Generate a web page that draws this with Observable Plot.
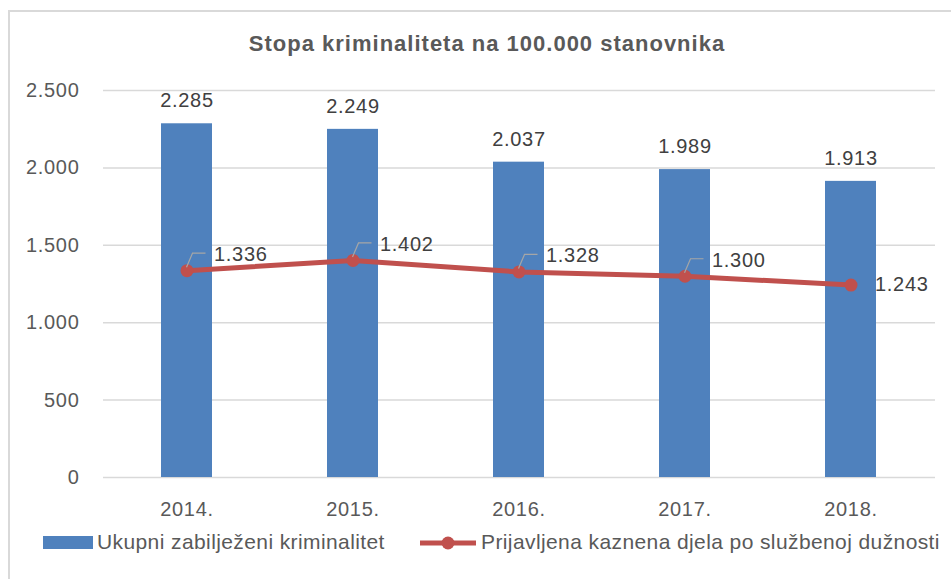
<!DOCTYPE html>
<html>
<head>
<meta charset="utf-8">
<script src="https://cdn.jsdelivr.net/npm/d3@7"></script>
<script src="https://cdn.jsdelivr.net/npm/@observablehq/plot@0.6"></script>
<style>
  html, body { margin: 0; padding: 0; background: #fff; }
  #wrap { position: relative; width: 951px; height: 579px; overflow: hidden; font-family: "Liberation Sans", Arial, sans-serif; }
  #frame { position: absolute; left: 8px; top: 10px; width: 1000px; height: 700px; border-top: 2px solid #d9d9d9; border-left: 2px solid #d9d9d9; }
  #title { position: absolute; left: 8px; width: 958px; top: 31px; text-align: center; font-weight: bold; font-size: 22px; letter-spacing: 1px; color: #595959; }
  #chart { position: absolute; left: 0; top: 0; }
  .leg { position: absolute; top: 530px; font-size: 21px; letter-spacing: 0.4px; color: #595959; white-space: nowrap; }
</style>
</head>
<body>
<div id="wrap">
  <div id="frame"></div>
  <div id="chart"></div>
  <div id="title"></div>
  <div id="legend"></div>
</div>
<script>
const chartTitle = "Stopa kriminaliteta na 100.000 stanovnika";
const years = ["2014.", "2015.", "2016.", "2017.", "2018."];
const totalCrime = [2285, 2249, 2037, 1989, 1913];
const reportedOfficial = [1336, 1402, 1328, 1300, 1243];
const yTicks = [0, 500, 1000, 1500, 2000, 2500];
const seriesNames = ["Ukupni zabilježeni kriminalitet", "Prijavljena kaznena djela po službenoj dužnosti"];

const BAR = "#4F81BD", LINE = "#C0504D";
const loc = d3.formatLocale({decimal: ",", thousands: ".", grouping: [3], currency: ["", ""]});
const fmt = loc.format(",d");

const data = years.map((y, i) => ({year: y, total: totalCrime[i], reported: reportedOfficial[i], i}));
const leaderData = data.filter(d => d.i < data.length - 1);
const lastData = data.filter(d => d.i === data.length - 1);

function leaders(index, scales) {
  const g = d3.create("svg:g").attr("fill", "none").attr("stroke", "#a6a6a6").attr("stroke-width", 1.2);
  const half = scales.x.bandwidth ? scales.x.bandwidth() / 2 : 0;
  for (const d of leaderData) {
    const px = scales.x(d.year) + half, py = scales.y(d.reported);
    g.append("path").attr("d", `M${px},${py - 3}L${px + 6},${py - 17}L${px + 19},${py - 17}`);
  }
  return g.node();
}

const plot = Plot.plot({
  width: 951,
  height: 579,
  marginTop: 90,
  marginBottom: 102,
  marginLeft: 103,
  marginRight: 16,
  style: {fontFamily: "'Liberation Sans', Arial, sans-serif", fontSize: "20px", letterSpacing: "0.7px", color: "#595959", background: "transparent"},
  x: {domain: years, paddingInner: 0.69, paddingOuter: 0.345, label: null},
  y: {domain: [0, 2500], label: null},
  marks: [
    Plot.gridY({ticks: yTicks, stroke: "#d9d9d9", strokeOpacity: 1, strokeWidth: 1.5}),
    Plot.axisY({ticks: yTicks, tickSize: 0, tickPadding: 24, tickFormat: fmt, label: null, fontSize: 20}),
    Plot.axisX({tickSize: 0, tickPadding: 24, label: null, fontSize: 20}),
    Plot.barY(data, {x: "year", y: "total", fill: BAR}),
    Plot.text(data, {x: "year", y: "total", text: d => fmt(d.total), dy: -23, fill: "#404040", fontSize: 20}),
    Plot.line(data, {x: "year", y: "reported", stroke: LINE, strokeWidth: 5}),
    Plot.dot(data, {x: "year", y: "reported", r: 6.5, fill: LINE}),
    leaders,
    Plot.text(leaderData, {x: "year", y: "reported", text: d => fmt(d.reported), dx: 27, dy: -16, textAnchor: "start", fill: "#404040", fontSize: 20}),
    Plot.text(lastData, {x: "year", y: "reported", text: d => fmt(d.reported), dx: 24, dy: 0, textAnchor: "start", fill: "#404040", fontSize: 20})
  ]
});
document.getElementById("chart").appendChild(plot);
document.getElementById("title").textContent = chartTitle;

const legend = document.getElementById("legend");
legend.innerHTML = `
  <div style="position:absolute;left:43px;top:536px;width:50px;height:13px;background:${BAR}"></div>
  <div class="leg" style="left:97px">${seriesNames[0]}</div>
  <svg style="position:absolute;left:418px;top:530px" width="60" height="26">
    <line x1="2" y1="13" x2="58" y2="13" stroke="${LINE}" stroke-width="5"/>
    <circle cx="30" cy="13" r="6.5" fill="${LINE}"/>
  </svg>
  <div class="leg" style="left:481px">${seriesNames[1]}</div>`;
</script>
</body>
</html>
